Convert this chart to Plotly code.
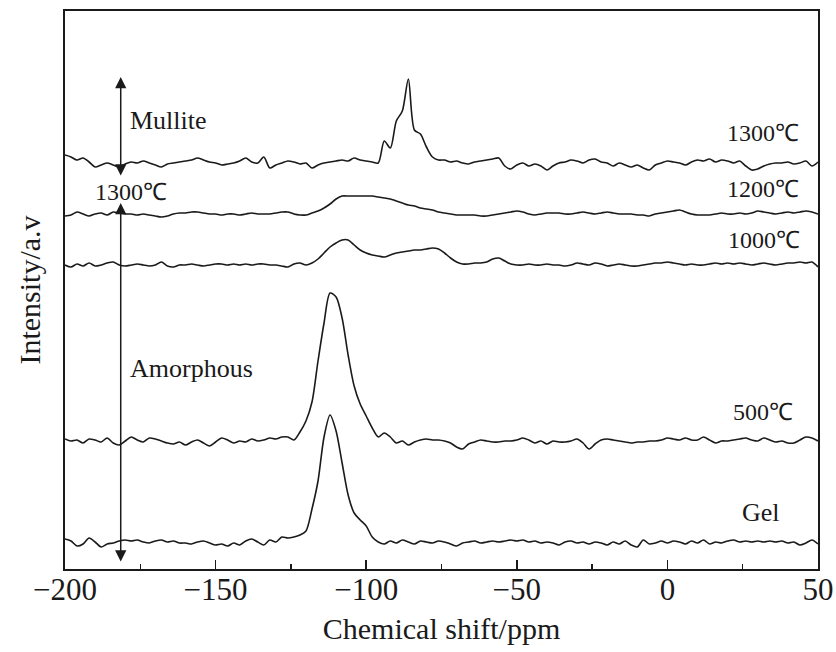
import numpy as np
import plotly.graph_objects as go

# Chemical shift sampling grid (ppm)
shift_ppm = np.arange(-200, 51, 2)

# Intensities (a.u., relative to each spectrum's own baseline)
gel = [
    2, 0, -5, -3, 3, -1, -6, -3, -2, 0,
    1, 0, 1, -1, -2, 0, 1, -1, 0, -2,
    -2, -3, -1, 0, -2, -4, -3, -5, -2, -4,
    0, 2, -1, -4, 1, -1, 4, 3, 4, 6,
    10, 32, 60, 104, 126, 110, 78, 46, 28, 21,
    15, 4, -1, -3, 0, -2, 1, -1, -3, 0,
    -1, -2, 0, -1, -3, -5, -2, -1, 0, -2,
    -1, 0, -1, 0, 1, 0, 1, -1, 0, -2,
    -1, -2, -4, -1, 0, -2, -1, -3, -1, -2,
    -4, -1, -3, 0, -4, -6, 1, -3, -2, 0,
    -2, 0, -1, -3, 0, -2, 1, -3, -1, -2,
    0, 1, -1, 0, -1, 0, -1, 0, -1, 0,
    -2, -1, -4, -2, 1, -3]

t500 = [
    1, -1, 0, -3, 1, 0, -2, 2, -3, -5,
    -1, 3, 0, -2, 2, 1, -1, -3, -4, -2,
    -5, -2, 0, -3, -6, -2, 2, 0, -3, -1,
    -2, 1, -1, 0, 2, 1, 3, 3, 0, 8,
    19, 38, 79, 117, 147, 143, 122, 85, 54, 36,
    24, 12, 3, 7, 3, -3, -1, -5, -2, 0,
    1, 0, 0, -1, -3, -7, -9, -4, -2, 0,
    -1, -2, -2, -1, -1, 0, 2, 0, -3, -1,
    -4, -1, -2, -2, -1, 1, -3, -9, -4, 0,
    1, 0, -1, -2, -3, -2, -2, -1, -1, 0,
    2, 1, 0, 2, 0, 0, 3, 0, -3, -1,
    -1, 0, 1, 2, 0, -1, 2, 0, -2, -1,
    -3, -3, 0, 3, 2, -1]

t1000 = [
    0, -2, 1, -1, 2, -1, 0, 2, 3, 0,
    -1, 0, 1, 0, -1, 0, 3, -1, -2, 0,
    0, 1, 0, -1, 0, 1, 1, 0, 1, 0,
    1, 0, 1, 1, 0, 0, -1, -2, 1, 2,
    0, 2, 6, 12, 18, 22, 25, 25, 20, 15,
    12, 10, 9, 8, 10, 12, 13, 14, 15, 15,
    16, 17, 16, 12, 7, 3, 1, 1, 2, 2,
    3, 6, 7, 4, 1, 0, 0, 1, 0, 0,
    1, 0, 0, -1, 0, 2, 1, 0, 2, 1,
    -1, 0, 1, 0, -1, -1, 0, 1, 2, 2,
    3, 2, 1, 0, 1, 0, 0, 1, 2, 1,
    2, 1, 2, 1, 0, 1, 2, 1, 0, 1,
    2, 2, 3, 2, 3, -2]

t1200 = [
    -2, -1, 2, 0, -2, 0, 1, -1, 2, 1,
    0, 0, -1, 0, -1, -2, -3, -2, 0, 1,
    1, 2, 2, 1, 0, 0, -1, 0, 0, -1,
    0, 1, 0, 0, 0, 1, 2, 2, 0, -1,
    -1, 1, 3, 6, 10, 15, 18, 18, 18, 18,
    18, 18, 17, 16, 15, 13, 11, 9, 8, 6,
    5, 4, 2, 1, 0, -1, -1, -1, -1, -2,
    -2, -1, 0, 1, 2, 3, 2, 0, -1, 0,
    1, 1, 1, 0, 0, 1, 2, 1, 0, 1,
    2, 1, 0, 0, 0, -1, -1, -2, 0, 1,
    2, 3, 4, 2, 0, -1, -1, -1, 0, 1,
    0, 0, 1, 0, 1, 3, 2, 1, 0, 1,
    2, 1, 2, 3, 2, 0]

t1300 = [
    8, 6, 3, 5, 1, -4, -2, 0, -2, -4,
    -1, 1, 0, 2, 0, -2, -4, -1, 0, 1,
    2, 3, 5, 3, 1, 0, -2, -1, 0, 2,
    5, 1, 0, 6, -5, -2, 0, 2, 1, -1,
    0, -5, -2, 0, 1, 2, 3, 2, 5, 3,
    2, 1, 0, 22, 15, 42, 52, 84, 33, 29,
    16, 6, 3, 3, 1, 2, 0, -1, 1, 2,
    3, 4, 5, -3, -6, -2, 0, -3, -1, -3,
    -7, -3, 0, 1, 3, 2, 0, 3, 4, 1,
    0, -3, 0, -2, -4, -2, -5, -7, -2, 0,
    2, 1, 0, -2, 1, 3, 2, 4, 1, 3,
    2, 0, 2, -3, -7, -6, -3, -1, 0, 0,
    1, -1, 0, 2, -3, 1]

series_names = ["Gel", "500℃", "1000℃", "1200℃", "1300℃"]
series_values = [gel, t500, t1000, t1200, t1300]
stack_offsets = [28, 129, 304, 355, 406]

for v in series_values:
    assert len(v) == len(shift_ppm), len(v)

INK = "#1a1a1a"
SERIF = "Liberation Serif, Times New Roman, serif"

fig = go.Figure()
for name, vals, off in zip(series_names, series_values, stack_offsets):
    fig.add_trace(go.Scatter(
        x=shift_ppm, y=np.array(vals) + off, mode="lines", name=name,
        line=dict(color=INK, width=1.6, shape="spline", smoothing=0.8),
        hoverinfo="skip", showlegend=False))

fig.update_layout(
    width=836, height=652,
    margin=dict(l=65, r=18, t=11, b=83),
    paper_bgcolor="white", plot_bgcolor="white",
    font=dict(family=SERIF, color=INK),
    showlegend=False,
)
fig.update_xaxes(
    range=[-200, 50], tickmode="linear", tick0=-200, dtick=50,
    ticks="inside", ticklen=9, tickwidth=1.5, tickcolor=INK,
    minor=dict(ticks="inside", ticklen=5, tick0=-200, dtick=25, tickwidth=1.5, tickcolor=INK),
    showline=True, linewidth=2, linecolor=INK, mirror=True,
    showgrid=False, zeroline=False, automargin=False,
    tickfont=dict(size=31, family=SERIF, color=INK), ticklabelstandoff=-8,
    title=dict(text="Chemical shift/ppm", font=dict(size=30, family=SERIF, color=INK), standoff=12),
)
fig.update_yaxes(
    range=[0, 558], showticklabels=False, ticks="",
    showline=True, linewidth=2, linecolor=INK, mirror=True,
    showgrid=False, zeroline=False, automargin=False,
    title=dict(text="Intensity/a.v", font=dict(size=30, family=SERIF, color=INK), standoff=14),
)

arrow_x = -181.5
for y_top, y_bot in [(492, 392), (366, 6)]:
    fig.add_annotation(x=arrow_x, y=y_top, ax=arrow_x, ay=y_bot, xref="x", yref="y",
                       axref="x", ayref="y", text="", showarrow=True,
                       arrowhead=2, arrowsize=1.5, arrowwidth=1.5, arrowcolor=INK,
                       arrowside="end+start", standoff=0, startstandoff=0)

labels = [
    ("Mullite", -179.1, 449, "left", 26),
    ("1300℃", -178.1, 377, "center", 24),
    ("Amorphous", -179.1, 201, "left", 26),
    ("1300℃", 31.7, 436, "center", 24),
    ("1200℃", 31.7, 380, "center", 24),
    ("1000℃", 32.1, 329, "center", 24),
    ("500℃", 31.7, 157, "center", 24),
    ("Gel", 31.2, 57, "center", 26),
]
for text, lx, ly, anchor, fsize in labels:
    fig.add_annotation(x=lx, y=ly, xref="x", yref="y", text=text, showarrow=False,
                       xanchor=anchor, yanchor="middle",
                       font=dict(size=fsize, family=SERIF, color=INK))

# remove the browser's default 8 px body margin so the figure fills the window exactly
fig.write_html("out.html",
               config={"displayModeBar": False, "staticPlot": True},
               post_script="document.body.style.margin='0px';document.body.style.overflow='hidden';")
